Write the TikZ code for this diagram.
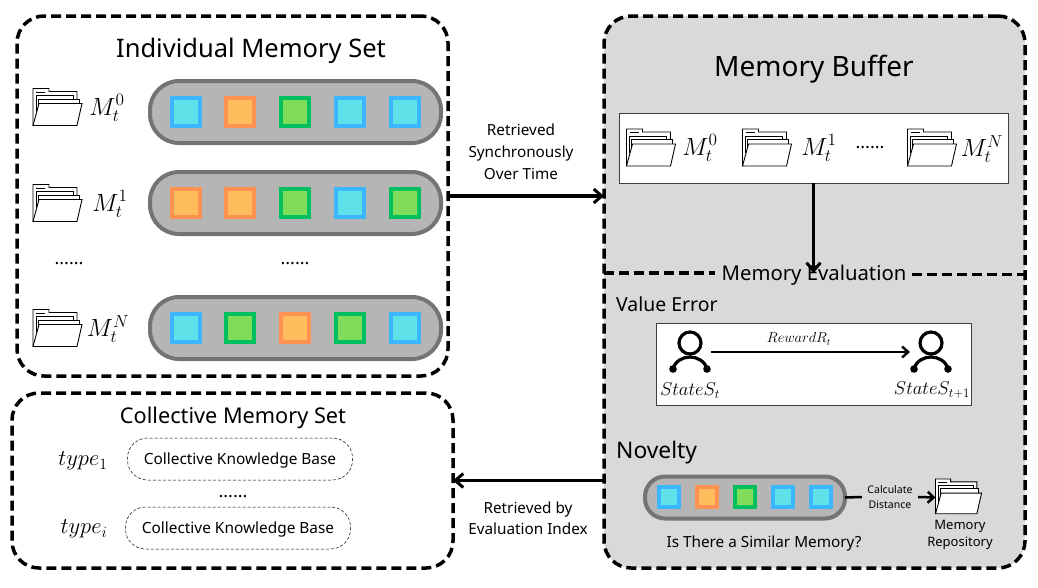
\documentclass[tikz,border=0pt]{standalone}
\usepackage[no-math]{fontspec}
\setmainfont{Noto Sans}
\usetikzlibrary{calc,arrows.meta}
\definecolor{bluel}{HTML}{3BB6FF}
\definecolor{bluef}{HTML}{5FE1E9}
\definecolor{orangel}{HTML}{FF9250}
\definecolor{orangef}{HTML}{FFBC5C}
\definecolor{greenl}{HTML}{00BF5F}
\definecolor{greenf}{HTML}{80DC5A}
\definecolor{pillf}{HTML}{B5B5B5}
\definecolor{pilll}{HTML}{747474}
\definecolor{panelf}{HTML}{D9D9D9}
\newcommand{\fs}[2]{\fontsize{#1}{#2}\selectfont}
\tikzset{
  panel/.style={draw,line width=3.5pt,dash pattern=on 10pt off 5pt,rounded corners=27pt,outer sep=0pt},
  pill/.style={draw=pilll,fill=pillf,line width=4pt,rounded corners=29pt,outer sep=0pt},
  softpill/.style={draw,densely dashed,line width=.5pt,rounded corners=20pt,minimum width=225pt,minimum height=42pt,inner sep=0pt,text depth=0pt,font=\fs{15.4}{18}},
  cell/.style={line width=4pt,minimum size=28pt,inner sep=0pt},
  smallcell/.style={line width=4pt,minimum size=20pt,inner sep=0pt},
  cb/.style={draw=bluel,fill=bluef},
  co/.style={draw=orangel,fill=orangef},
  cg/.style={draw=greenl,fill=greenf},
  whitebox/.style={draw=black!75,fill=white,line width=.7pt,outer sep=0pt},
  folderbox/.style={minimum width=49pt,minimum height=37pt,inner sep=0pt,outer sep=0pt},
  personbox/.style={minimum width=42pt,minimum height=44pt,inner sep=0pt,outer sep=0pt},
  dotsrow/.style={font=\fs{18}{20},inner sep=0pt},
  memlabel/.style={font=\fs{20.74}{24},inner sep=0pt,scale=1.2,transform shape},
  typelabel/.style={font=\fs{20.74}{24},inner sep=0pt,scale=1.09,transform shape},
  statelabel/.style={font=\fs{17.28}{20},inner sep=0pt,scale=1.08,transform shape},
  conn/.style={-{Straight Barb[length=8pt,width=14pt,line width=3pt]},line width=3.5pt},
  thinconn/.style={-{Straight Barb[length=6pt,width=11pt,line width=2.5pt]},line width=2.8pt},
  folder/.pic={
    \draw[line width=.9pt,fill=white] (0,37)--(0,0)--(16,0)--(16,3)--(44,3)--(44,14)--(0,37);
    \draw[line width=.7pt] (3,3.5)--(12,3.5);
    \draw[line width=.9pt,fill=white] (3,24)--(3,7)--(40,7)--(40,14);
    \draw[line width=.9pt,fill=white] (5,18)--(5,10.5)--(46,10.5)--(46,15);
    \draw[line width=.9pt,fill=white] (0,37)--(6,15)--(49,15)--(44,37)--cycle;
  },
  person/.pic={
    \draw[line width=3.2pt] (0,-9) circle (11);
    \draw[line width=3.2pt] (-17,17) .. controls (-15,9) and (-7,5) .. (0,5) .. controls (7,5) and (15,9) .. (17,17);
    \fill (-17,17) circle (3.8) (17,17) circle (3.8);
  }
}
\begin{document}
\begin{tikzpicture}[x=1pt,y=-1pt]
\useasboundingbox (0,0) rectangle (1038,587);
% the three panels
\node[panel,minimum width=431pt,minimum height=360pt] (indiv) at (232.5,196) {};
\node[panel,fill=panelf,minimum width=421pt,minimum height=552pt] (buffer) at (814.5,292) {};
\node[panel,minimum width=441pt,minimum height=175pt] (coll) at (232.5,480.5) {};
% individual memory set
\node[font=\fs{25.5}{30}] (indivtitle) at (251,51) {Individual Memory Set};
\node[pill,minimum width=291pt,minimum height=62pt] (rowa) at (295.5,112) {};
\node[pill,minimum width=291pt,minimum height=62pt] (rowb) at (295.5,203) {};
\node[pill,minimum width=291pt,minimum height=62pt] (rowc) at (295.5,328) {};
\foreach \x/\c in {186/cb,240/co,295/cg,350/cb,405/cb} \node[cell,\c] (a\x) at (\x,112) {};
\foreach \x/\c in {186/co,240/co,295/cg,350/cb,405/cg} \node[cell,\c] (b\x) at (\x,203) {};
\foreach \x/\c in {186/cb,240/cg,295/co,350/cg,405/cb} \node[cell,\c] (c\x) at (\x,328) {};
\foreach \n/\y in {fa/107,fb/203,fc/328} {
  \node[folderbox] (\n) at (57.5,\y) {};
  \pic at (\n.north west) {folder};
}
\node[memlabel] (ma) at (107,108) {$M_t^0$};
\node[memlabel] (mb) at (110,204) {$M_t^1$};
\node[memlabel] (mc) at (108,329) {$M_t^N$};
\node[dotsrow] (dotsa) at (69,264) {......};
\node[dotsrow] (dotsb) at (295,264) {......};
% collective memory set
\node[font=\fs{21.7}{26}] (colltitle) at (233,418) {Collective Memory Set};
\node[typelabel] (typea) at (83,461) {$type_1$};
\node[typelabel] (typeb) at (84,529) {$type_i$};
\node[softpill] (basea) at (240,459) {Collective Knowledge Base};
\node[softpill] (baseb) at (238,528) {Collective Knowledge Base};
\node[dotsrow] (dotsc) at (233,497) {......};
% memory buffer
\node[font=\fs{28}{32}] (buftitle) at (814,69) {Memory Buffer};
\node[whitebox,minimum width=389pt,minimum height=70pt] (bufbox) at (813.5,148) {};
\foreach \n/\x in {fd/651,fe/767,ff/932} {
  \node[folderbox] (\n) at (\x,147.5) {};
  \pic at (\n.north west) {folder};
}
\node[memlabel] (md) at (700,148) {$M_t^0$};
\node[memlabel] (me) at (819,148) {$M_t^1$};
\node[memlabel] (mf) at (982,149) {$M_t^N$};
\node[dotsrow] (dotsd) at (870,148) {......};
% memory evaluation
\node[font=\fs{20.3}{24},inner sep=7pt] (eval) at (814,275) {Memory Evaluation};
\coordinate (divl) at (715,273);
\coordinate (divr) at (912,274.5);
\coordinate (evalin) at (bufbox.south |- divl);
\draw[panel,rounded corners=0pt] (buffer.west |- divl) -- (divl);
\draw[panel,rounded corners=0pt] (divr) -- (buffer.east |- divr);
\node[anchor=west,font=\fs{19.4}{22},inner sep=0pt] (valerr) at (616,304) {Value Error};
\node[whitebox,minimum width=315pt,minimum height=82pt] (valbox) at (813.5,364) {};
\node[personbox] (sa) at (690,352) {};
\node[personbox] (sb) at (931,352) {};
\pic at (sa.center) {person};
\pic at (sb.center) {person};
\node[font=\fs{14.4}{16},inner sep=0pt] (rew) at (799,339) {$RewardR_t$};
\node[statelabel] (la) at (690,391) {$StateS_t$};
\node[statelabel] (lb) at (932,390) {$StateS_{t+1}$};
% novelty
\node[anchor=west,font=\fs{22.8}{25},inner sep=0pt] (nov) at (616,453) {Novelty};
\node[pill,minimum width=200pt,minimum height=42pt,rounded corners=20pt] (rowd) at (745,497.5) {};
\foreach \x/\c in {669/cb,707/co,745/cg,783/cb,821/cb} \node[smallcell,\c] (d\x) at (\x,497) {};
\node[font=\fs{15.3}{18},inner sep=0pt] (similar) at (764,544) {Is There a Similar Memory?};
\node[font=\fs{10.5}{15},align=center,inner sep=0pt,minimum width=56pt] (calc) at (890,497) {Calculate\\Distance};
\node[folderbox] (fg) at (960,497.5) {};
\pic[scale=.94] at (fg.north west) {folder};
\node[font=\fs{13}{17.5},align=center,inner sep=0pt] (repo) at (960,535) {Memory\\Repository};
% middle labels
\node[font=\fs{15.3}{22},align=center,inner sep=0pt] (retra) at (521,152) {Retrieved\\Synchronously\\Over Time};
\node[font=\fs{15.3}{21},align=center,inner sep=0pt] (retrb) at (528,518) {Retrieved by\\Evaluation Index};
% connectors
\draw[conn] (bufbox.south) -- (evalin);
\draw[conn] (indiv.east) -- (indiv.east -| buffer.west);
\draw[conn] (coll.east -| buffer.west) -- (coll.east);
\draw[thinconn] (sa.east) -- (sb.west);
\draw[line width=2.5pt] (rowd.east) -- (calc.west);
\draw[thinconn,line width=2.5pt] (calc.east) -- (fg.west);
\end{tikzpicture}
\end{document}
